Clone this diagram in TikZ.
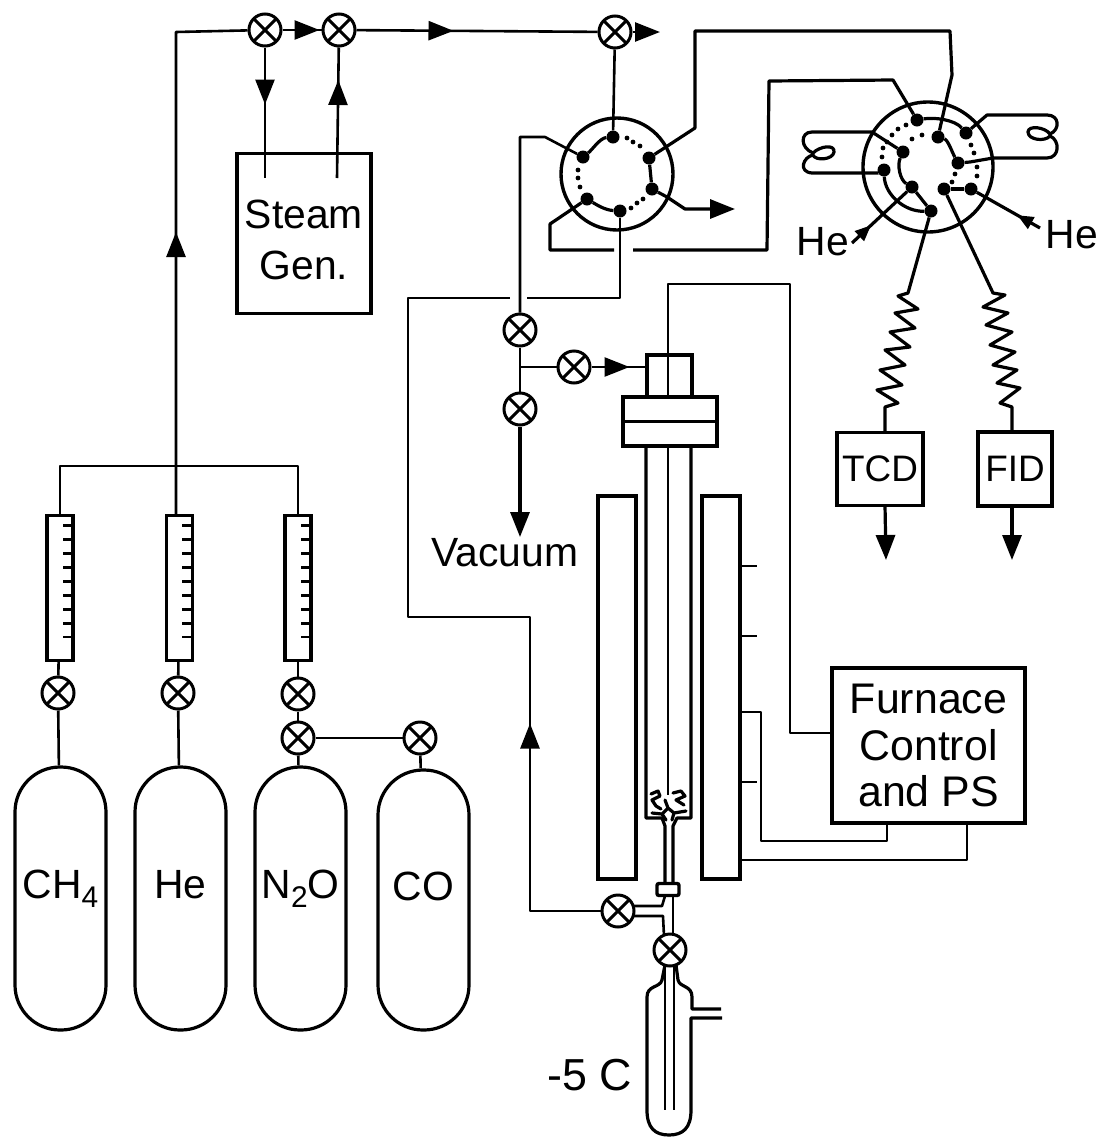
\documentclass[tikz,border=0pt]{standalone}
\usepackage{fontspec}
\setmainfont{Liberation Sans}
\usetikzlibrary{arrows.meta,decorations.markings}
\tikzset{
  flowtip/.tip={Triangle[length=25bp,width=19bp]},
  flow/.style={postaction={decorate},decoration={markings,mark=at position #1 with {\arrow{flowtip}}}},
  feed/.style={postaction={decorate},decoration={markings,mark=at position 26bp with {\arrow{Triangle[length=16bp,width=13bp]}}}},
  valve/.style={draw,circle,line width=3bp,minimum size=32bp,inner sep=0pt,
    path picture={\draw[line width=3bp] (path picture bounding box.north west) -- (path picture bounding box.south east)
      (path picture bounding box.north east) -- (path picture bounding box.south west);}},
  box/.style={draw,rectangle,line width=3.4bp,inner sep=0pt,align=center},
  bottle/.style={draw,rectangle,rounded corners=45bp,line width=3.2bp,minimum width=91bp,minimum height=263bp,inner sep=0pt,text height=26bp,text depth=26bp},
  meter/.style={draw,rectangle,line width=3.4bp,minimum width=26bp,minimum height=145bp,inner sep=0pt},
  port/.style={circle,fill,inner sep=0pt,minimum size=13bp},
  dial/.style={draw,circle,line width=3.4bp,inner sep=0pt},
  tag/.style={inner sep=0pt,align=center},
  pipe/.style={line width=2.6bp,line join=round},
  lead/.style={line width=3.2bp,line join=round}
}
\newcommand{\gasindex}[1]{\raisebox{-9bp}{\fontsize{30}{30}\selectfont #1}}
\begin{document}
\begin{tikzpicture}[x=1bp,y=-1bp,font=\fontsize{41}{47}\selectfont]
	\useasboundingbox (0,0) rectangle (1104,1137);
	%% gas bottles and meters
  \node (CH4) at (60.5,898.5) [bottle] {CH\gasindex{4}};
  \node (He) at (180.5,898.5) [bottle] {He};
  \node (N2O) at (300.5,898.5) [bottle] {N\gasindex{2}O};
  \node (CO) at (423.5,900) [bottle,minimum height=260bp] {CO};
  \node (RCH4) at (60,588) [meter] {};
  \node (RHe) at (179.5,588) [meter] {};
  \node (RN2O) at (298,588) [meter] {};
  \node (VCH4) at (58,693) [valve] {};
  \node (VHe) at (178,693) [valve] {};
  \node (VN2O) at (298,694) [valve] {};
  \node (VMix) at (298,738) [valve] {};
  \node (VCO) at (420,738) [valve] {};
  \coordinate (JL) at (60,466);
  \coordinate (JR) at (298,466);
  \coordinate (HeTop) at (176,516);
  \coordinate (Corner) at (176,32);
  \foreach \n in {RCH4,RHe,RN2O} \foreach \i in {0,...,8}
    \draw[line width=2.8bp] (\n.north east) ++(0,12+13.9*\i) -- ++(-12,0);
  \draw[pipe] (RCH4) -- (JL) -- (JR) -- (RN2O);
  \draw[pipe] (RCH4) -- (VCH4);
  \draw[pipe] (VCH4) -- (CH4);
  \draw[pipe] (RHe) -- (VHe);
  \draw[pipe] (VHe) -- (He);
  \draw[pipe] (RN2O) -- (VN2O);
  \draw[pipe] (VN2O) -- (VMix);
  \draw[pipe] (VMix) -- (N2O);
  \draw[pipe] (VMix) -- (VCO);
  \draw[pipe] (VCO) -- (CO);
	%% top line and steam
  \node (V1) at (265,30) [valve] {};
  \node (V2) at (339,30) [valve] {};
  \node (V3) at (615,32) [valve] {};
  \node (Steam) at (304,233.5) [box,minimum width=134bp,minimum height=160bp] {};
  \node (SteamText) at (304,240) [tag] {Steam\\[5bp]Gen.};
  \coordinate (S1) at (265,178);
  \coordinate (S2) at (337,178);
  \coordinate (Out) at (660,32);
  \draw[pipe,flow=284bp] (HeTop) -- (Corner) -- (V1);
  \draw[pipe,flow=37bp] (V1) -- (V2);
  \draw[pipe,flow=97bp] (V2) -- (V3);
  \draw[pipe,-flowtip] (V3) -- (Out);
  \draw[pipe,flow=57bp] (V1) -- (S1);
  \draw[pipe,flow=98bp] (S2) -- (V2);
	%% first selector
  \node (D1) at (617,174) [dial,minimum size=112bp] {};
  \node (a1) at (613,137) [port] {};
  \node (a2) at (583,157) [port] {};
  \node (a3) at (587,199) [port] {};
  \node (a4) at (620,211) [port] {};
  \node (a5) at (652,189) [port] {};
  \node (a6) at (649,158) [port] {};
  \foreach \p in {(627,138),(633,142),(640,146),(578,170),(578,178),(580,187),(631,208),(637,203),(643,199)}
    \fill \p circle (2.4bp);
  \draw[lead] (a1) .. controls (600,138) and (592,150) .. (a2);
  \draw[lead] (a3) .. controls (597,205) and (605,210) .. (a4);
  \draw[lead] (a6) -- (a5);
  \draw[pipe] (a1) -- (V3);
	%% second selector
  \node (D2) at (928,167) [dial,minimum size=130bp] {};
  \node (b1) at (917,120) [port] {};
  \node (b2) at (938,137) [port] {};
  \node (b3) at (966,133) [port] {};
  \node (b4) at (958,163) [port] {};
  \node (b5) at (971,189) [port] {};
  \node (b6) at (944,189) [port] {};
  \node (b7) at (931,211) [port] {};
  \node (b8) at (912,187) [port] {};
  \node (b9) at (884,170) [port] {};
  \node (b10) at (903,152) [port] {};
  \foreach \p in {(906,125),(898,129),(892,135),(887,142),(883,148),(882,157),(922,135),(912,139),(955,174),(952,182),(971,145),(974,153),(977,167),(977,176)}
    \fill \p circle (2.4bp);
  \draw[lead] (b1) .. controls (935,117) and (955,120) .. (b3);
  \draw[lead] (b2) .. controls (948,140) and (952,152) .. (b4);
  \draw[lead] (b9) .. controls (885,195) and (905,212) .. (b7);
  \draw[lead] (b10) .. controls (897,165) and (900,180) .. (b8);
  \draw[lead] (b8) -- (b7);
  \draw[lead] (b5) -- (b6);
	%% sample loops
  \draw[lead] (b10) -- (872,132) -- (812,132) .. controls (800,132) and (800,148) .. (813,153)
    .. controls (820,146) and (835,144) .. (834,152) .. controls (833,160) and (815,161) .. (813,155)
    .. controls (803,157) and (798,172) .. (812,173) -- (878,173) -- (b9);
  \draw[lead] (b3) -- (987,115) -- (1047,115) .. controls (1060,115) and (1060,130) .. (1050,134)
    .. controls (1045,127) and (1028,125) .. (1028,132) .. controls (1028,140) and (1045,142) .. (1050,136)
    .. controls (1060,140) and (1060,158) .. (1047,158) -- (993,158) -- (970,162) -- (b4);
  \draw[lead] (a6) -- (695,128) -- (695,31) -- (950,31) -- (952,75) -- (b2);
  \draw[lead] (a3) -- (550,224) -- (550,250) -- (614,250);
  \draw[lead] (633,250) -- (767,250) -- (769,81) -- (893,80) -- (b1);
  \draw[lead,-flowtip] (a5) -- (667,197) -- (685,209) -- (735,209);
	%% helium
  \node (HeL) at (823,242) [tag] {He};
  \node (HeR) at (1072,235) [tag] {He};
  \coordinate (HL) at (852,243);
  \coordinate (HR) at (1040,228);
  \draw[lead,feed] (HL) -- (b8);
  \draw[lead,feed] (HR) -- (b5);
	%% detectors
  \node (TCD) at (880,469) [box,minimum width=86bp,minimum height=73bp,font=\fontsize{37}{37}\selectfont] {TCD};
  \node (FID) at (1015,469) [box,minimum width=74bp,minimum height=74bp,font=\fontsize{37}{37}\selectfont] {FID};
  \coordinate (T1) at (885,432);
  \coordinate (T2) at (885,505);
  \coordinate (T3) at (886,560);
  \coordinate (F1) at (1012,432);
  \coordinate (F2) at (1012,506);
  \coordinate (F3) at (1012,560);
  \draw[lead] (b7) -- (908,293) -- (898,296) -- (918,309) -- (895,313) -- (915,328) -- (890,332) -- (910,347)
    -- (885,350) -- (905,365) -- (880,370) -- (902,385) -- (877,390) -- (898,403) -- (885,407) -- (T1);
  \draw[lead] (b6) -- (993,293) -- (1005,295) -- (983,307) -- (1008,313) -- (986,325) -- (1012,332) -- (990,345)
    -- (1015,352) -- (993,365) -- (1017,370) -- (997,383) -- (1020,388) -- (1000,403) -- (1012,407) -- (F1);
  \draw[lead,-flowtip] (T2) -- (T3);
  \draw[lead,-flowtip] (F2) -- (F3);
	%% vacuum and feed
  \node (V4) at (520,330) [valve] {};
  \node (V5) at (574,367) [valve] {};
  \node (V6) at (520,409) [valve] {};
  \node (Vac) at (505,553) [tag] {Vacuum};
  \coordinate (J1) at (520,367);
  \coordinate (VacEnd) at (520,537);
  \coordinate (HeadIn) at (647,367);
  \draw[pipe] (a2) -- (545,137) -- (520,137) -- (V4);
  \draw[pipe] (V4) -- (J1) -- (V6);
  \draw[lead,-flowtip] (V6) -- (VacEnd);
  \draw[pipe] (J1) -- (V5);
  \draw[pipe,flow=38bp] (V5) -- (HeadIn);
	%% reactor
  \node (Head) at (669.5,376) [box,minimum width=45bp,minimum height=42bp] {};
  \node (Flange) at (670,421.5) [box,minimum width=94bp,minimum height=49bp] {};
  \node (Fl) at (617,687.5) [box,minimum width=38bp,minimum height=383bp] {};
  \node (Fr) at (721,687.5) [box,minimum width=38bp,minimum height=383bp] {};
  \node (Furn) at (928.5,745.5) [box,minimum width=193bp,minimum height=155bp,font=\fontsize{43}{47}\selectfont] {Furnace\\Control\\and PS};
  \node (Union) at (668,889.5) [box,minimum width=22bp,minimum height=12bp,rounded corners=2bp] {};
  \node (V7) at (618,911) [valve] {};
  \node (V8) at (670,950) [valve] {};
  \node (Cold) at (590,1075) [tag,font=\fontsize{45}{45}\selectfont] {-5 C};
  \draw[lead] (Flange.west) -- (Flange.east);
  \draw[pipe] (668,355) -- (668,397);
  \draw[pipe] (668,355) -- (668,284) -- (790,284) -- (790,733) -- (832,733);
  \draw[lead] (646,446) -- (646,818) -- (662,818) -- (665,826) -- (665,883);
  \draw[lead] (691,446) -- (691,818) -- (677,818) -- (673,826) -- (673,883);
  \draw[pipe] (668,446) -- (668,795);
	%% catalyst
  \draw[line width=3.2bp,line cap=round,line join=round] (651,794) -- (658,791) -- (660,796) -- (652,800) -- (656,806) -- (661,809)
    (665,800) -- (668,808) -- (662,814) -- (652,813) (668,808) -- (674,813) -- (686,811)
    (673,793) -- (681,791) -- (685,796) -- (676,800) -- (684,805)
    (662,814) -- (666,820) (674,813) -- (672,820);
	%% heater leads
  \foreach \y in {566,636,782} \draw[pipe] (740,\y) -- ++(17,0);
  \draw[pipe] (740,712) -- (761,712) -- (761,841) -- (887,841) -- (887,823);
  \draw[pipe] (740,860) -- (967,860) -- (967,823);
	%% recycle line
  \draw[pipe] (a4) -- (620,298) -- (527,298);
  \draw[pipe,flow=258bp] (V7) -- (530,911) -- (530,617) -- (408,617) -- (408,298) -- (510,298);
  \draw[pipe] (633,906) -- (662,906) -- (665,896);
  \draw[pipe] (633,916) -- (663,916) -- (664,936);
  \draw[pipe] (673,896) -- (673,936);
	%% trap
  \draw[lead] (665,965) -- (662,980) .. controls (660,988) and (647,985) .. (647,997) -- (647,1110) .. controls (647,1128) and (655,1135) .. (669,1135)
    .. controls (683,1135) and (691,1128) .. (691,1110) -- (691,1018) -- (722,1018);
  \draw[lead] (676,965) -- (678,980) .. controls (680,988) and (692,985) .. (692,997) -- (692,1009) -- (721,1009);
  \draw[pipe] (665,965) -- (665,1110);
  \draw[pipe] (674,965) -- (674,1110);
	%
\end{tikzpicture}
\end{document}
